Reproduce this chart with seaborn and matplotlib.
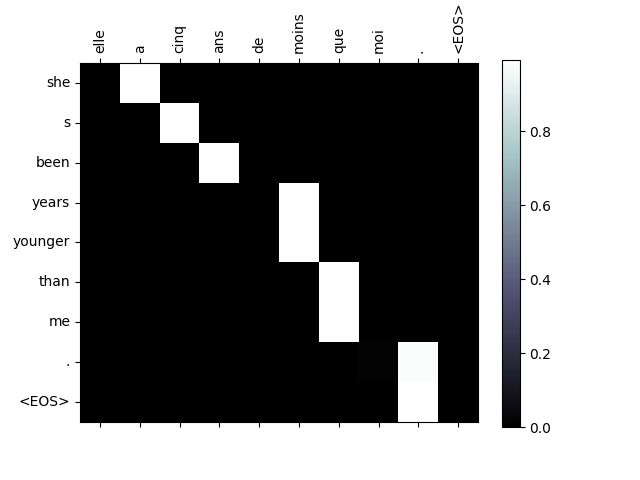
import numpy as np
import pandas as pd
import matplotlib
matplotlib.use("Agg")
import matplotlib.pyplot as plt
import seaborn as sns

input_words = ["elle", "a", "cinq", "ans", "de", "moins", "que", "moi", ".", "<EOS>"]
output_words = ["she", "s", "been", "years", "younger", "than", "me", ".", "<EOS>"]

# attention weights (rows = output, cols = input)
att_she = [0.0, 0.99, 0.0, 0.0, 0.0, 0.0, 0.0, 0.0, 0.0, 0.0]
att_s = [0.0, 0.0, 0.99, 0.0, 0.0, 0.0, 0.0, 0.0, 0.0, 0.0]
att_been = [0.0, 0.0, 0.0, 0.99, 0.0, 0.0, 0.0, 0.0, 0.0, 0.0]
att_years = [0.0, 0.0, 0.0, 0.0, 0.0, 0.99, 0.0, 0.0, 0.0, 0.0]
att_younger = [0.0, 0.0, 0.0, 0.0, 0.0, 0.99, 0.0, 0.0, 0.0, 0.0]
att_than = [0.0, 0.0, 0.0, 0.0, 0.0, 0.0, 0.99, 0.0, 0.0, 0.0]
att_me = [0.0, 0.0, 0.0, 0.0, 0.0, 0.0, 0.99, 0.0, 0.0, 0.0]
att_dot = [0.0, 0.0, 0.0, 0.0, 0.0, 0.0, 0.0, 0.012, 0.978, 0.0]
att_eos = [0.0, 0.0, 0.0, 0.0, 0.0, 0.0, 0.0, 0.0, 0.99, 0.0]

att = pd.DataFrame(
    [att_she, att_s, att_been, att_years, att_younger, att_than, att_me, att_dot, att_eos],
    index=output_words, columns=input_words,
)

fig = plt.figure(figsize=(6.4, 4.8), dpi=100)
ax = fig.add_axes([0.125, 0.121, 0.622, 0.748])
cax = fig.add_axes([0.784, 0.110, 0.028, 0.765])

sns.heatmap(att, ax=ax, cbar_ax=cax, cmap="bone", vmin=0.0, vmax=0.992)

ax.tick_params(top=True, bottom=True, labeltop=True, labelbottom=False,
               left=True, length=3.5, width=0.8)
ax.set_xticklabels(input_words, rotation=90)
ax.set_yticklabels(output_words, rotation=0)
ax.set_xlabel("")
ax.set_ylabel("")
for s in ax.spines.values():
    s.set_visible(True)
    s.set_color("black")
    s.set_linewidth(0.8)

cbar = ax.collections[0].colorbar
cbar.outline.set_linewidth(0.8)
cbar.outline.set_edgecolor("black")
cbar.set_ticks([0.0, 0.2, 0.4, 0.6, 0.8])
cbar.ax.tick_params(labelsize=10, length=3.5, width=0.8)

fig.savefig("out.png", dpi=100)
